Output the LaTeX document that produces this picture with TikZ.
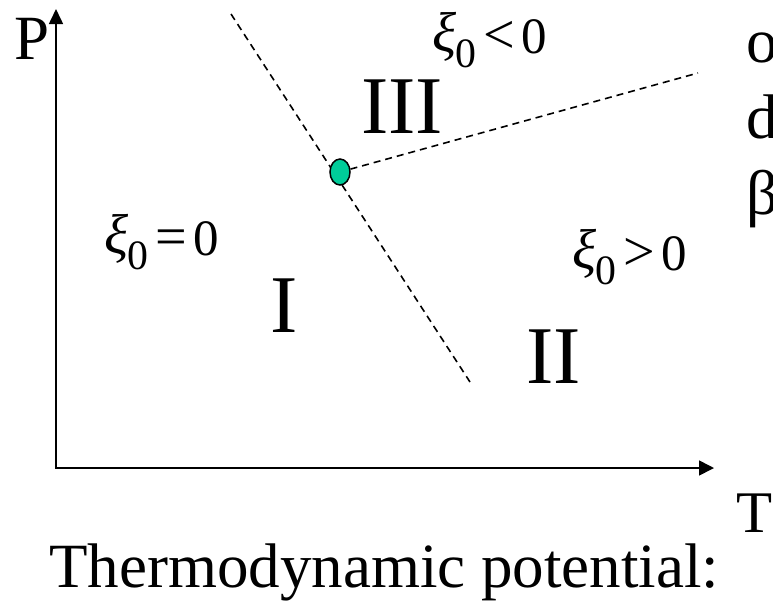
\documentclass[tikz,border=0pt]{standalone}
\usepackage{fontspec}
\setmainfont{Liberation Serif}
\newfontfamily\timesfont{Liberation Serif}
\usetikzlibrary{arrows.meta,positioning,shapes.geometric}
\definecolor{pointteal}{HTML}{00CC99}
\newcommand{\xizero}[1]{\raisebox{.02em}{\scalebox{1.1}{\itshape ξ}}\kern-.02em\raisebox{-.28em}{\scalebox{.82}{0}}\kern.15em\scalebox{1.1}{#1}\kern.12em0}

\begin{document}
\begin{tikzpicture}[x=1pt,y=-1pt,
axis/.style={line width=1.6pt,{Triangle[length=15pt,width=14pt]}-{Triangle[length=15pt,width=15pt]}},
boundary/.style={line width=1.6pt,dash pattern=on 7pt off 5pt},
bigtext/.style={anchor=base west,inner sep=0pt,font=\timesfont\fontsize{63}{76}\selectfont},
region/.style={anchor=base west,inner sep=0pt,font=\timesfont\fontsize{82}{96}\selectfont},
phase/.style={anchor=base west,inner sep=0pt,font=\timesfont\fontsize{51}{60}\selectfont}]
\clip (0,0) rectangle (773,603);
\fill[white] (0,0) rectangle (773,603);
% axes
\coordinate (ptop) at (56,9);
\coordinate (tend) at (714,468);
\draw[axis] (ptop) |- (tend);
\node[bigtext] (plabel) at (14,59) {P};
\node[bigtext,font=\timesfont\fontsize{59}{70}\selectfont] (tlabel) at (736,532) {T};
% phase boundaries
\coordinate (bndtop) at (231,14);
\coordinate (bndbottom) at (470,382);
\coordinate (bndright) at (698,73);
\draw[boundary] (bndtop) -- (bndbottom);
\node[ellipse,draw,line width=1.5pt,fill=pointteal,minimum width=20pt,minimum height=26pt,inner sep=0pt] (triple) at (340,172) {};
\draw[boundary] (triple) -- (bndright);
% regions
\node[region] (regI) at (270,332) {I};
\node[region] (regII) at (526,383) {II};
\node[region] (regIII) at (361,133) {III};
\node[phase] (xizero) at (104,255) {\xizero{=}};
\node[phase] (xineg) at (432,53) {\xizero{<}};
\node[phase] (xipos) at (572,270) {\xizero{>}};
% cut-off text
\node[bigtext] (lineo) at (746,62) {o};
\node[bigtext] (lined) at (746,138) {d};
\node[bigtext] (linebeta) at (746,214) {β};
\node[bigtext] (potential) at (49,587) {Thermodynamic potential:};
\end{tikzpicture}
\end{document}
